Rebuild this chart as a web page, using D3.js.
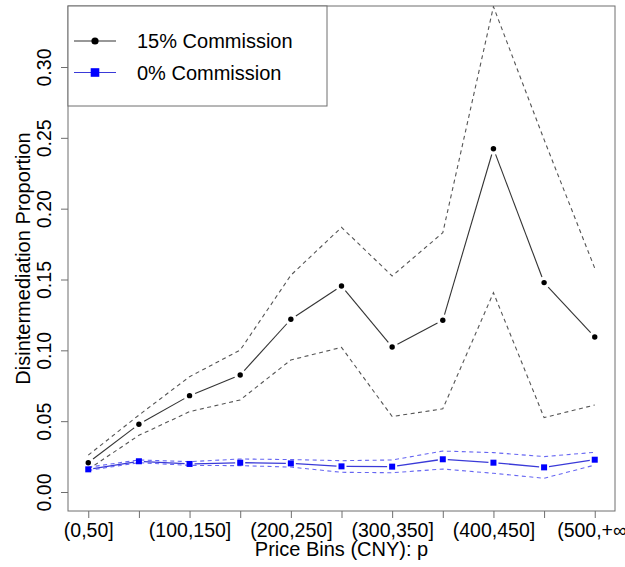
<!DOCTYPE html>
<html>
<head>
<meta charset="utf-8">
<script src="https://cdn.jsdelivr.net/npm/d3@7"></script>
<style>
  html, body { margin: 0; padding: 0; background: #fff; overflow: hidden; }
  svg { display: block; font-family: "Liberation Sans", Arial, Helvetica, sans-serif; }
</style>
</head>
<body>
<svg id="chart" width="625" height="567"></svg>
<script>
// Price bins (CNY)
const categories = ["(0,50]", "(50,100]", "(100,150]", "(150,200]", "(200,250]", "(250,300]",
                    "(300,350]", "(350,400]", "(400,450]", "(450,500]", "(500,+\u221e)"];

// 15% commission: point estimate and confidence band
const commission15      = [0.0207, 0.0478, 0.0680, 0.0826, 0.1219, 0.1454, 0.1024, 0.1212, 0.2423, 0.1478, 0.1094];
const commission15Upper = [0.0260, 0.0543, 0.0814, 0.1002, 0.1530, 0.1868, 0.1525, 0.1830, 0.3426, 0.2487, 0.1580];
const commission15Lower = [0.0160, 0.0400, 0.0567, 0.0650, 0.0932, 0.1021, 0.0533, 0.0587, 0.1407, 0.0525, 0.0614];

// 0% commission: point estimate and confidence band
const commission0      = [0.0160, 0.0217, 0.0198, 0.0207, 0.0202, 0.0181, 0.0179, 0.0231, 0.0207, 0.0174, 0.0228];
const commission0Upper = [0.0175, 0.0226, 0.0214, 0.0233, 0.0229, 0.0221, 0.0226, 0.0289, 0.0278, 0.0250, 0.0280];
const commission0Lower = [0.0152, 0.0207, 0.0188, 0.0186, 0.0176, 0.0139, 0.0136, 0.0162, 0.0132, 0.0097, 0.0190];

const yTicks = [0.00, 0.05, 0.10, 0.15, 0.20, 0.25, 0.30];
const legendLabels = ["15% Commission", "0% Commission"];

const svg = d3.select("#chart");
const plot = { left: 68, right: 615, top: 6, bottom: 511 };
const axisColor = "#6e6e6e";
const fontSize = 19.5;

const idx = categories.map((_, i) => i + 1);
const x = d3.scaleLinear().domain([0.6, 11.4]).range([plot.left, plot.right]);
const y = d3.scaleLinear().domain([-0.01341, 0.34306]).range([plot.bottom, plot.top]);

svg.append("defs").append("clipPath").attr("id", "plotClip")
  .append("rect")
  .attr("x", plot.left).attr("y", plot.top)
  .attr("width", plot.right - plot.left).attr("height", plot.bottom - plot.top);

// Y axis (labels rotated parallel to the axis)
const yAxis = d3.axisLeft(y).tickValues(yTicks).tickSize(7).tickPadding(0).tickFormat(d3.format(".2f"));
const gy = svg.append("g").attr("transform", `translate(${plot.left},0)`).call(yAxis);
gy.select(".domain").remove();
gy.selectAll(".tick line").attr("stroke", axisColor);
gy.selectAll(".tick text")
  .attr("font-size", fontSize).attr("fill", "#000")
  .attr("text-anchor", "middle")
  .attr("dy", null)
  .attr("transform", "translate(-24,0) rotate(-90)")
  .attr("x", 0).attr("y", 0)
  .attr("dominant-baseline", "central");

// X axis: ticks at every bin, labels on every other bin
const xAxis = d3.axisBottom(x).tickValues(idx).tickSize(7).tickPadding(5.5)
  .tickFormat((d, i) => (i % 2 === 0 ? categories[i] : ""));
const gx = svg.append("g").attr("transform", `translate(0,${plot.bottom})`).call(xAxis);
gx.select(".domain").remove();
gx.selectAll(".tick line").attr("stroke", axisColor);
gx.selectAll(".tick text").attr("font-size", fontSize).attr("fill", "#000");

// Plot frame
svg.append("rect")
  .attr("x", plot.left).attr("y", plot.top)
  .attr("width", plot.right - plot.left).attr("height", plot.bottom - plot.top)
  .attr("fill", "none").attr("stroke", axisColor).attr("stroke-width", 1);

// Axis titles
svg.append("text")
  .attr("x", (plot.left + plot.right) / 2).attr("y", 556)
  .attr("text-anchor", "middle").attr("font-size", fontSize + 0.5)
  .text("Price Bins (CNY): p");
svg.append("text")
  .attr("transform", `translate(23,${(plot.top + plot.bottom) / 2}) rotate(-90)`)
  .attr("text-anchor", "middle").attr("dominant-baseline", "central")
  .attr("font-size", fontSize + 0.5)
  .text("Disintermediation Proportion");

const g = svg.append("g").attr("clip-path", "url(#plotClip)");
const line = d3.line().x((d, i) => x(idx[i])).y(d => y(d));

function dashed(values, color, opacity) {
  g.append("path").datum(values)
    .attr("d", line).attr("fill", "none")
    .attr("stroke", color).attr("stroke-opacity", opacity)
    .attr("stroke-width", 1.1).attr("stroke-dasharray", "4,3.5");
}

// Lines with gaps around the markers (points-and-lines style)
function gappedLine(values, color, width, gap) {
  const pts = values.map((v, i) => [x(idx[i]), y(v)]);
  for (let i = 0; i < pts.length - 1; i++) {
    const [x0, y0] = pts[i], [x1, y1] = pts[i + 1];
    const len = Math.hypot(x1 - x0, y1 - y0);
    if (len <= 2 * gap) continue;
    const ux = (x1 - x0) / len, uy = (y1 - y0) / len;
    g.append("line")
      .attr("x1", x0 + ux * gap).attr("y1", y0 + uy * gap)
      .attr("x2", x1 - ux * gap).attr("y2", y1 - uy * gap)
      .attr("stroke", color).attr("stroke-width", width);
  }
}

// 15% commission series
dashed(commission15Upper, "#555", 1);
dashed(commission15Lower, "#555", 1);
gappedLine(commission15, "#333", 1.1, 6);
g.selectAll("circle.c15").data(commission15).enter().append("circle")
  .attr("class", "c15")
  .attr("cx", (d, i) => x(idx[i])).attr("cy", d => y(d))
  .attr("r", 2.7).attr("fill", "#000");

// 0% commission series
dashed(commission0Upper, "#3333ee", 0.75);
dashed(commission0Lower, "#3333ee", 0.75);
gappedLine(commission0, "#3a3ad8", 1.3, 5);
g.selectAll("rect.c0").data(commission0).enter().append("rect")
  .attr("class", "c0")
  .attr("x", (d, i) => x(idx[i]) - 3).attr("y", d => y(d) - 3)
  .attr("width", 6).attr("height", 6).attr("fill", "#0000ff");

// Legend
const legend = svg.append("g");
legend.append("rect")
  .attr("x", 68).attr("y", 6).attr("width", 259).attr("height", 100)
  .attr("fill", "#fff").attr("stroke", axisColor);
const legendRows = [
  { label: legendLabels[0], y: 41, color: "#333", marker: "circle" },
  { label: legendLabels[1], y: 72.5, color: "#3a3ad8", marker: "square" }
];
legendRows.forEach(r => {
  legend.append("line").attr("x1", 74).attr("x2", 116).attr("y1", r.y).attr("y2", r.y)
    .attr("stroke", r.color).attr("stroke-width", 1.1);
  if (r.marker === "circle") {
    legend.append("circle").attr("cx", 95).attr("cy", r.y).attr("r", 3.6).attr("fill", "#000");
  } else {
    legend.append("rect").attr("x", 95 - 4.3).attr("y", r.y - 4.3)
      .attr("width", 8.6).attr("height", 8.6).attr("fill", "#0000ff");
  }
  legend.append("text").attr("x", 137).attr("y", r.y)
    .attr("dominant-baseline", "central").attr("font-size", 20)
    .text(r.label);
});
</script>
</body>
</html>
